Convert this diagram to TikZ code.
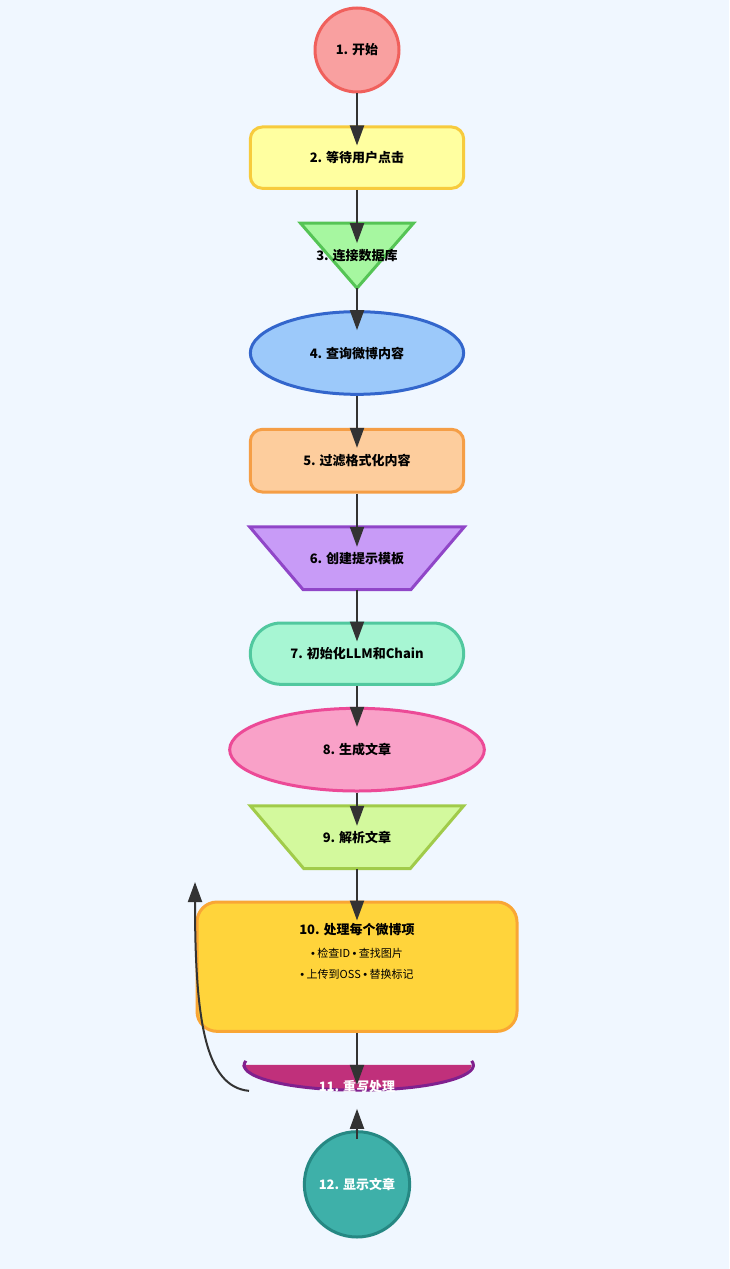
\documentclass[tikz,border=0pt]{standalone}
\usepackage{fontspec}
\usepackage{xcolor}
\usepackage{tikz}
\usetikzlibrary{positioning, arrows.meta, shapes.geometric, backgrounds}
\newfontfamily\cjkfont{Noto Sans CJK SC}
\newfontfamily\dotfont{Liberation Sans}
\newcommand{\itemdot}{{\dotfont •}}
\definecolor{canvas}{HTML}{F0F7FF}
\definecolor{ink}{HTML}{333333}
\definecolor{startfill}{HTML}{F9A0A0}
\definecolor{startline}{HTML}{F0605C}
\definecolor{waitfill}{HTML}{FFFFA0}
\definecolor{waitline}{HTML}{F7CB3D}
\definecolor{dbfill}{HTML}{A6F7A0}
\definecolor{dbline}{HTML}{55C455}
\definecolor{queryfill}{HTML}{9CC9FA}
\definecolor{queryline}{HTML}{3366CC}
\definecolor{filterfill}{HTML}{FDCD9D}
\definecolor{filterline}{HTML}{F59E46}
\definecolor{tmplfill}{HTML}{C89BF7}
\definecolor{tmplline}{HTML}{9046C8}
\definecolor{llmfill}{HTML}{A7F6D3}
\definecolor{llmline}{HTML}{51C89F}
\definecolor{genfill}{HTML}{F9A1C8}
\definecolor{genline}{HTML}{EC4A97}
\definecolor{parsefill}{HTML}{D3F99D}
\definecolor{parseline}{HTML}{A1CB4A}
\definecolor{itemfill}{HTML}{FFD43B}
\definecolor{itemline}{HTML}{F9A635}
\definecolor{redofill}{HTML}{C0307B}
\definecolor{redoline}{HTML}{80208E}
\definecolor{showfill}{HTML}{3EB0A9}
\definecolor{showline}{HTML}{268883}
\tikzset{
  box/.style      = {draw, line width=2.25pt, align=center, text=black, inner sep=2pt,
                     font=\cjkfont\bfseries\fontsize{9.75}{12}\selectfont},
  bare/.style     = {box, draw=none, rectangle, outer sep=0pt},
  outline/.style  = {line width=2.25pt, line join=miter},
  startnode/.style= {box, circle, minimum size=63pt, draw=startline, fill=startfill},
  waitnode/.style = {box, rectangle, rounded corners=9pt, minimum width=160pt,
                     minimum height=46pt, draw=waitline, fill=waitfill},
  dbnode/.style   = {bare, minimum width=84.75pt, minimum height=48.75pt},
  querynode/.style= {box, ellipse, minimum width=160pt, minimum height=62pt,
                     draw=queryline, fill=queryfill},
  filternode/.style={box, rectangle, rounded corners=9pt, minimum width=160pt,
                     minimum height=47pt, draw=filterline, fill=filterfill},
  tmplnode/.style = {bare, minimum width=161pt, minimum height=47pt},
  llmnode/.style  = {box, rectangle, rounded corners=23pt, minimum width=160pt,
                     minimum height=46pt, draw=llmline, fill=llmfill},
  gennode/.style  = {box, ellipse, minimum width=191pt, minimum height=62pt,
                     draw=genline, fill=genfill},
  parsenode/.style= {bare, minimum width=160pt, minimum height=47pt},
  itemnode/.style = {box, rectangle, rounded corners=15pt, minimum width=240pt,
                     minimum height=97pt, draw=itemline, fill=itemfill,
                     font=\cjkfont\fontsize{8.25}{15.75}\selectfont},
  redonode/.style = {bare, minimum width=172pt, minimum height=33pt, text=white},
  showfnode/.style= {box, circle, minimum size=79pt, draw=showline, fill=showfill,
                     text=white},
  arr/.style      = {-{Triangle[length=15pt,width=10.5pt]}, line width=1.5pt,
                     draw=ink, shorten >=-15pt},
}
\begin{document}
\begin{tikzpicture}[node distance=24pt]

  \node[startnode] (n1) at (267.75pt,-37.5pt) {1. 开始};
  \node[waitnode, below=of n1]          (n2) {2. 等待用户点击};
  \node[dbnode, below=25pt of n2]       (n3) {3. 连接数据库};
  \node[querynode, below=16.5pt of n3]  (n4) {4. 查询微博内容};
  \node[filternode, below=of n4]        (n5) {5. 过滤格式化内容};
  \node[tmplnode, below=25pt of n5]     (n6) {6. 创建提示模板};
  \node[llmnode, below=of n6]           (n7) {7. 初始化LLM和Chain};
  \node[gennode, below=15.75pt of n7]   (n8) {8. 生成文章};
  \node[parsenode, below=10pt of n8]    (n9) {9. 解析文章};
  \node[itemnode, below=of n9]          (n10) {{\bfseries\fontsize{9.75}{12}\selectfont 10. 处理每个微博项}\\[1.5pt]
        \itemdot{} 检查ID \itemdot{} 查找图片\\
        \itemdot{} 上传到OSS \itemdot{} 替换标记\\[7.5pt]\mbox{}};
  \node[redonode, below=of n10]         (n11) {11. 重写处理};
  \node[showfnode, below=16pt of n11]   (n12) {12. 显示文章};

  \coordinate (loopend) at (146.25pt,-661.5pt);

  % canvas and the drawn shapes behind the text
  \begin{scope}[on background layer]
    \fill[canvas] (0,0) rectangle (546.75pt,-951.75pt);
    \filldraw[outline, draw=dbline, fill=dbfill]
      (n3.north west) -- (n3.north east) -- (n3.south) -- cycle;
    \filldraw[outline, draw=tmplline, fill=tmplfill]
      (n6.north west) -- (n6.north east) -- ([xshift=-40pt]n6.south east)
      -- ([xshift=40pt]n6.south west) -- cycle;
    \filldraw[outline, draw=parseline, fill=parsefill]
      (n9.north west) -- (n9.north east) -- ([xshift=-40pt]n9.south east)
      -- ([xshift=40pt]n9.south west) -- cycle;
    \fill[redofill] (n11.north west) -- (n11.north east)
      arc[start angle=0, end angle=-180, x radius=86pt, y radius=18.75pt] -- cycle;
    \draw[redoline, line width=2.25pt] ([yshift=3pt]n11.north east)
      arc[start angle=10, end angle=-190, x radius=86pt, y radius=18.75pt];
  \end{scope}

  \draw[arr] (n1) -- (n2);
  \draw[arr] (n2) -- (n3);
  \draw[arr] (n3) -- (n4);
  \draw[arr] (n4) -- (n5);
  \draw[arr] (n5) -- (n6);
  \draw[arr] (n6) -- (n7);
  \draw[arr] (n7) -- (n8);
  \draw[arr] (n8) -- (n9);
  \draw[arr] (n9) -- (n10);
  \draw[arr] (n10) -- (n11);
  \draw[arr, shorten >=0pt, shorten <=-6.75pt] (n12) -- (n11);
  \draw[arr, shorten >=0pt] ([shift={(5pt,-3pt)}]n11.west)
    .. controls +(-33pt,3pt) and +(0pt,-103pt) .. (loopend);

\end{tikzpicture}
\end{document}
